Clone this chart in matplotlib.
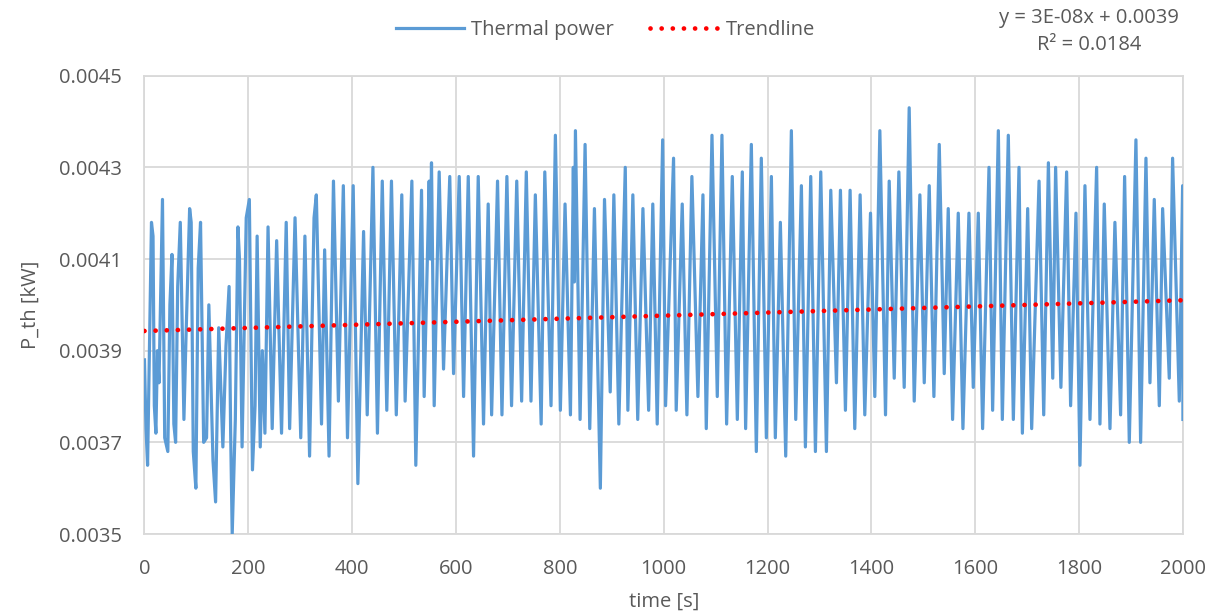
import numpy as np
import matplotlib
matplotlib.use("Agg")
import matplotlib.pyplot as plt

# 読み取った極値（時間 [s]、熱出力 [kW]）
time_s = [
    0, 3, 6, 13.5, 16.5, 19, 22, 25, 28, 34.7, 39, 45, 49, 53, 56.6, 60, 64, 69, 76, 80,
    87, 90, 94, 99, 103.5, 108, 114, 119.6, 124, 132, 137, 143, 151, 157, 163, 166, 169, 175, 180, 183,
    188, 196, 202, 208, 213, 217, 223, 227, 232, 238, 246, 254.6, 264, 273, 279.6, 290, 301, 309, 318, 326.6,
    331, 341, 347, 355.5, 364, 373.5, 383, 391, 402, 411, 422, 429, 440, 448.7, 458, 466.7, 475.7, 485, 495.6, 502,
    515, 522.6, 533.6, 538.7, 548.3, 550.5, 552.8, 558, 567.6, 576, 588, 595.3, 606.2, 614.6, 623.6, 633.8, 642.8, 653, 662, 668.6, 680, 688.5,
    698, 707, 717, 726.4, 735.4, 744.4, 752.8, 764, 771, 783, 791.4, 801, 810, 820.4, 826, 828, 830, 839, 848.6, 857.6, 866.6, 878,
    886, 897, 904, 913.6, 926, 931, 940.6, 950, 960, 971, 979, 987.5, 998, 1003.6, 1019, 1024.1, 1035.7, 1044.7, 1054.3, 1065.9,
    1075.6, 1082, 1093, 1103.2, 1112.2, 1121.2, 1132.1, 1141.8, 1151.4, 1157.8, 1168.8, 1178.4, 1188, 1197.7, 1207.4, 1215, 1224.7, 1235, 1245.9, 1254.3,
    1265.2, 1272.9, 1283.2, 1292.2, 1302.5, 1313.4, 1321.8, 1332.7, 1340.4, 1350, 1359, 1368, 1378.3, 1387.3, 1398.3, 1406.6, 1416.3, 1427.2, 1434.3, 1444,
    1452.9, 1463.2, 1472.8, 1482.5, 1493.4, 1501.8, 1511.4, 1520.4, 1530.7, 1540.3, 1548, 1556.4, 1567.3, 1576.3, 1587.9, 1596.2, 1605.9, 1614.2, 1626.5, 1633.5,
    1644.5, 1652.2, 1663.7, 1673.4, 1684.3, 1690.8, 1701, 1708.7, 1722.9, 1731.9, 1740.9, 1749.3, 1754.8, 1765, 1776, 1783.7, 1794, 1801.7, 1811.3, 1821,
    1833.8, 1840.2, 1848.5, 1859.5, 1869, 1880, 1887.7, 1896.7, 1909.5, 1918.5, 1928.8, 1936.5, 1944.8, 1954.5, 1960.9, 1973.7, 1980.1, 1993, 1999.4, 2000,
]
p_th = [
    0.00388, 0.00373, 0.00365, 0.00418, 0.00415, 0.00378, 0.00372, 0.00390, 0.00383, 0.00423, 0.00371, 0.00368, 0.00400, 0.00411, 0.00374, 0.00370, 0.00404, 0.00418, 0.00375, 0.00393,
    0.00421, 0.00418, 0.00368, 0.00360, 0.00408, 0.00418, 0.00370, 0.00371, 0.00400, 0.00366, 0.00357, 0.00395, 0.00369, 0.00391, 0.00404, 0.00372, 0.00350, 0.00375, 0.00417, 0.00410,
    0.00369, 0.00419, 0.00423, 0.00364, 0.00378, 0.00415, 0.00369, 0.00390, 0.00372, 0.00417, 0.00373, 0.00414, 0.00372, 0.00418, 0.00373, 0.00419, 0.00371, 0.00415, 0.00367, 0.00419,
    0.00424, 0.00374, 0.00412, 0.00367, 0.00427, 0.00379, 0.00426, 0.00371, 0.00426, 0.00361, 0.00416, 0.00376, 0.00430, 0.00372, 0.00427, 0.00377, 0.00427, 0.00376, 0.00424, 0.00379,
    0.00427, 0.00365, 0.00425, 0.00380, 0.00427, 0.00410, 0.00431, 0.00378, 0.00429, 0.00386, 0.00428, 0.00385, 0.00428, 0.00380, 0.00428, 0.00367, 0.00428, 0.00374, 0.00422, 0.00376, 0.00427, 0.00376,
    0.00428, 0.00378, 0.00427, 0.00379, 0.00429, 0.00379, 0.00424, 0.00374, 0.00429, 0.00378, 0.00437, 0.00377, 0.00422, 0.00376, 0.00430, 0.00405, 0.00438, 0.00375, 0.00435, 0.00373, 0.00421, 0.00360,
    0.00423, 0.00381, 0.00424, 0.00374, 0.00430, 0.00377, 0.00424, 0.00375, 0.00421, 0.00377, 0.00422, 0.00374, 0.00436, 0.00378, 0.00432, 0.00377, 0.00422, 0.00376, 0.00428, 0.00380,
    0.00424, 0.00373, 0.00437, 0.00380, 0.00437, 0.00374, 0.00428, 0.00375, 0.00429, 0.00373, 0.00435, 0.00368, 0.00432, 0.00371, 0.00428, 0.00371, 0.00418, 0.00367, 0.00438, 0.00375,
    0.00426, 0.00369, 0.00428, 0.00368, 0.00429, 0.00368, 0.00425, 0.00383, 0.00425, 0.00377, 0.00425, 0.00373, 0.00424, 0.00376, 0.00420, 0.00380, 0.00438, 0.00376, 0.00427, 0.00384,
    0.00429, 0.00382, 0.00443, 0.00379, 0.00424, 0.00383, 0.00426, 0.00380, 0.00435, 0.00385, 0.00421, 0.00375, 0.00420, 0.00373, 0.00420, 0.00382, 0.00420, 0.00373, 0.00430, 0.00377,
    0.00438, 0.00375, 0.00437, 0.00375, 0.00430, 0.00372, 0.00421, 0.00373, 0.00427, 0.00376, 0.00431, 0.00384, 0.00430, 0.00382, 0.00429, 0.00378, 0.00420, 0.00365, 0.00426, 0.00375,
    0.00430, 0.00374, 0.00422, 0.00373, 0.00418, 0.00376, 0.00428, 0.00370, 0.00436, 0.00370, 0.00432, 0.00383, 0.00423, 0.00378, 0.00421, 0.00384, 0.00432, 0.00379, 0.00426, 0.00375,
]

# 近似直線（図から読んだ両端）
trend_t = [0, 2000]
trend_p = [0.003943, 0.004010]

x_ticks = list(range(0, 2001, 200))
y_ticks = [0.0035, 0.0037, 0.0039, 0.0041, 0.0043, 0.0045]

plt.rcParams["font.family"] = ["Open Sans", "DejaVu Sans"]
gray = "#595959"
fs = 14.5

fig = plt.figure(figsize=(12.16, 6.16), dpi=100)
ax = fig.add_axes([0.1188, 0.1331, 0.854, 0.744])

ax.plot(time_s, p_th, color="#5B9BD5", lw=2.3, label="Thermal power", zorder=3)
ax.plot(trend_t, trend_p, color="#FF0000", lw=3.4, linestyle=(0, (0.01, 2.35)),
        dash_capstyle="round", label="Trendline", zorder=4)

ax.set_xlim(0, 2000)
ax.set_ylim(0.0035, 0.0045)
ax.set_xticks(x_ticks)
ax.set_yticks(y_ticks)
ax.set_yticklabels([f"{v:.4f}" for v in y_ticks])
ax.grid(True, color="#D9D9D9", lw=1.3)
ax.set_axisbelow(True)
for s in ax.spines.values():
    s.set_color("#D9D9D9")
    s.set_linewidth(1.3)
ax.tick_params(length=0, labelsize=fs, labelcolor=gray)
ax.tick_params(axis="x", pad=18)
ax.tick_params(axis="y", pad=16)

ax.set_xlabel("time [s]", fontsize=fs, color=gray, labelpad=9)
ax.set_ylabel("P_th [kW]", fontsize=fs, color=gray, labelpad=13)

fig.legend(loc="center", bbox_to_anchor=(0.498, 1 - 30 / 616), ncol=2, frameon=False,
           fontsize=fs, labelcolor=gray, handlelength=3.4, handletextpad=0.35,
           columnspacing=1.8, borderpad=0)

fig.text(1089 / 1216, 1 - 18 / 616, "y = 3E-08x + 0.0039", ha="center", va="center",
         fontsize=fs, color=gray)
fig.text(1089 / 1216, 1 - 45 / 616, "R² = 0.0184", ha="center", va="center",
         fontsize=fs, color=gray)

fig.savefig("out.png", dpi=100)
